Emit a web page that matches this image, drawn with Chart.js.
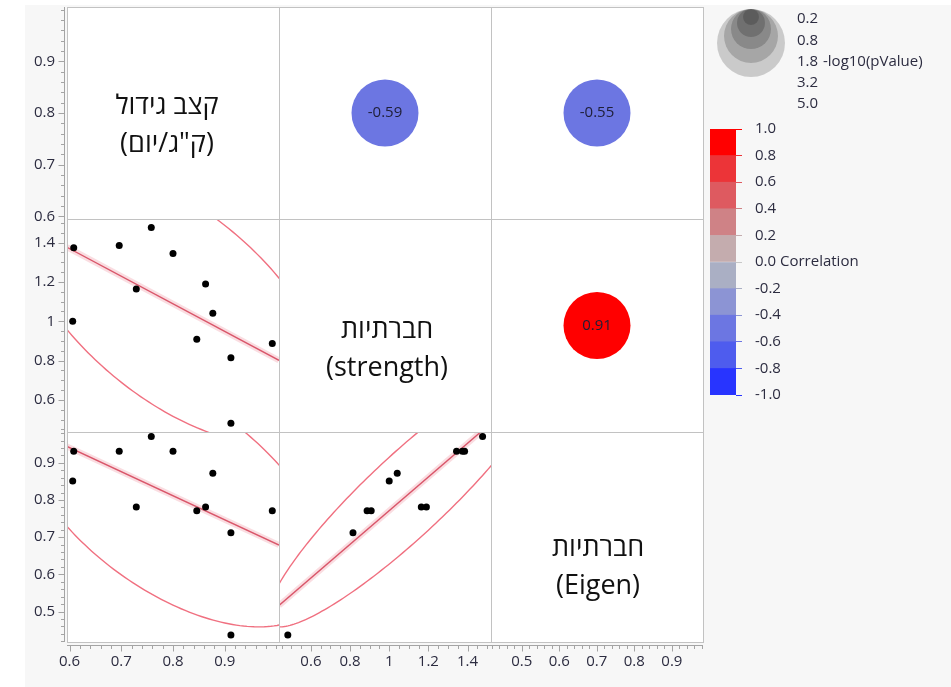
<!DOCTYPE html>
<html>
<head>
<meta charset="utf-8">
<script src="https://cdn.jsdelivr.net/npm/chart.js@4"></script>
<style>
  html, body { margin: 0; padding: 0; background: #fff; }
  #bg { position: absolute; left: 25px; top: 5px; width: 926px; height: 682px; background: #f7f7f7; }
  #matrix { position: absolute; left: 0; top: 0; }
  #legend { position: absolute; left: 700px; top: 0; }
</style>
</head>
<body>
<div id="bg"></div>
<canvas id="matrix" width="951" height="687"></canvas>
<canvas id="legend" width="251" height="420"></canvas>
<script>
const growth   = [0.608, 0.606, 0.696, 0.758, 0.729, 0.800, 0.863, 0.877, 0.846, 0.912, 0.912, 0.992];
const strength = [1.374, 1.000, 1.385, 1.477, 1.164, 1.344, 1.190, 1.041, 0.908, 0.815, 0.482, 0.887];
const eigen    = [0.931, 0.851, 0.931, 0.971, 0.781, 0.931, 0.781, 0.872, 0.771, 0.712, 0.437, 0.771];

const varLabels = [['קצב גידול', '(ק"ג/יום)'], ['חברתיות', '(strength)'], ['חברתיות', '(Eigen)']];

const growthTicks   = [0.6, 0.7, 0.8, 0.9];
const strengthTicks = [0.6, 0.8, 1, 1.2, 1.4];
const eigenTicks    = [0.5, 0.6, 0.7, 0.8, 0.9];

const corrPairs  = [[0, 1], [0, 2], [1, 2]];
const corrValues = [-0.59, -0.55, 0.91];
const corrTicks  = [-1, -0.8, -0.6, -0.4, -0.2, 0, 0.2, 0.4, 0.6, 0.8, 1];
const pvalueLabels = ['0.2', '0.8', '1.8', '3.2', '5.0'];

// styling / layout
const FONT = '"Open Sans", "DejaVu Sans", sans-serif';
const TICK_COLOR = '#2c2c40';
const BAND_COLORS = ['#2834ff', '#4e5cee', '#6c76e2', '#8c94d4', '#aaafc4',
                     '#c4acae', '#cf8286', '#de5a60', '#ec3438', '#ff0000'];
const VAR_DATA  = [growth, strength, eigen];
const VAR_TICKS = [growthTicks, strengthTicks, eigenTicks];
const VAR_MINOR = [0.02, 0.05, 0.02];
const VAR_RANGE = [[0.595, 1.005], [0.437, 1.52], [0.418, 0.983]];
const ROW_WEIGHT = [212, 213, 210];
const DIAG_POS = [[-6, -7], [2, 5], [1, 11]];   // text offset from cell centre
const SIZE_RADII = [34, 27, 20, 14, 8];

function corrColor(r) {
  const i = Math.max(0, Math.min(9, Math.floor((r + 1) / 0.2)));
  return BAND_COLORS[i];
}

function stats(xs, ys) {
  const n = xs.length;
  const mx = xs.reduce((a, b) => a + b, 0) / n;
  const my = ys.reduce((a, b) => a + b, 0) / n;
  let sxx = 0, syy = 0, sxy = 0;
  for (let k = 0; k < n; k++) {
    sxx += (xs[k] - mx) ** 2;
    syy += (ys[k] - my) ** 2;
    sxy += (xs[k] - mx) * (ys[k] - my);
  }
  return { mx, my, sx: Math.sqrt(sxx / (n - 1)), sy: Math.sqrt(syy / (n - 1)),
           r: sxy / Math.sqrt(sxx * syy), b: sxy / sxx };
}

const datasets = [];
for (let i = 0; i < 3; i++) {
  for (let j = 0; j < 3; j++) {
    const xa = 'x' + j, ya = 'y' + i;
    if (i > j) {
      const X = VAR_DATA[j], Y = VAR_DATA[i], st = stats(X, Y);
      const c = Math.sqrt(5.991);
      const ell = [];
      for (let k = 0; k <= 240; k++) {
        const t = 2 * Math.PI * k / 240;
        ell.push({
          x: st.mx + c * st.sx * Math.cos(t),
          y: st.my + c * st.sy * (st.r * Math.cos(t) + Math.sqrt(1 - st.r * st.r) * Math.sin(t))
        });
      }
      const fit = VAR_RANGE[j].map(x => ({ x, y: st.my + st.b * (x - st.mx) }));
      datasets.push({ data: ell, showLine: true, pointRadius: 0, borderColor: '#f07080', borderWidth: 1.4,
                      xAxisID: xa, yAxisID: ya, order: 3 });
      datasets.push({ data: fit, showLine: true, pointRadius: 0, borderColor: 'rgba(230,100,120,0.22)', borderWidth: 6,
                      xAxisID: xa, yAxisID: ya, order: 2 });
      datasets.push({ data: fit, showLine: true, pointRadius: 0, borderColor: '#d9566a', borderWidth: 1.4,
                      xAxisID: xa, yAxisID: ya, order: 1 });
      datasets.push({ data: X.map((x, k) => ({ x, y: Y[k] })), pointRadius: 3.5, pointBorderWidth: 0,
                      backgroundColor: '#000', xAxisID: xa, yAxisID: ya, order: 0 });
    } else if (i < j) {
      const p = corrPairs.findIndex(([a, b]) => a === i && b === j);
      const [xl, xh] = VAR_RANGE[j], [yl, yh] = VAR_RANGE[i];
      datasets.push({ type: 'bubble', data: [{ x: (xl + xh) / 2, y: (yl + yh) / 2, r: 33.5 }],
                      backgroundColor: corrColor(corrValues[p]), borderWidth: 0, corr: corrValues[p],
                      xAxisID: xa, yAxisID: ya, order: 0 });
    }
  }
}

function axisOpts(v, pos, weight) {
  return {
    type: 'linear', position: pos, stack: pos, stackWeight: weight,
    min: VAR_RANGE[v][0], max: VAR_RANGE[v][1],
    afterBuildTicks: s => { s.ticks = VAR_TICKS[v].map(value => ({ value })); },
    afterFit: s => {
      if (pos === 'left') s.width = 67; else s.height = 45;
      s.paddingTop = s.paddingBottom = s.paddingLeft = s.paddingRight = 0;
    },
    grid: { display: false, drawTicks: false },
    border: { display: false },
    ticks: { autoSkip: false, maxRotation: 0, minRotation: 0, padding: pos === 'left' ? 12 : 11,
             color: TICK_COLOR, font: { family: FONT, size: 15 }, callback: val => String(+val.toFixed(2)) }
  };
}

const scales = {};
[0, 1, 2].forEach(j => { scales['x' + j] = axisOpts(j, 'bottom', 212); });
[2, 1, 0].forEach(i => { scales['y' + i] = axisOpts(i, 'left', ROW_WEIGHT[i]); });

const px = v => Math.round(v) + 0.5;

const matrixPlugin = {
  id: 'matrix',
  beforeDraw(chart) {
    const { ctx, chartArea: a } = chart;
    ctx.save();
    ctx.fillStyle = '#fff';
    ctx.fillRect(a.left, a.top, a.width, a.height);
    ctx.restore();
  },
  beforeDatasetDraw(chart, args) {
    const m = args.meta, xs = chart.scales[m.xAxisID], ys = chart.scales[m.yAxisID];
    const ctx = chart.ctx;
    ctx.save();
    ctx.beginPath();
    ctx.rect(xs.left, ys.top, xs.right - xs.left, ys.bottom - ys.top);
    ctx.clip();
  },
  afterDatasetDraw(chart) { chart.ctx.restore(); },
  afterDatasetsDraw(chart) {
    const ctx = chart.ctx;
    ctx.save();
    // correlation values inside bubbles
    ctx.font = '15px ' + FONT;
    ctx.fillStyle = '#1e1e36';
    ctx.textAlign = 'center';
    ctx.textBaseline = 'middle';
    chart.data.datasets.forEach((ds, idx) => {
      if (ds.corr === undefined) return;
      const el = chart.getDatasetMeta(idx).data[0];
      ctx.fillText(ds.corr.toFixed(2), el.x, el.y);
    });
    // variable names on the diagonal
    ctx.font = '27px ' + FONT;
    ctx.fillStyle = '#111';
    for (let i = 0; i < 3; i++) {
      const xs = chart.scales['x' + i], ys = chart.scales['y' + i];
      const cx = (xs.left + xs.right) / 2 + DIAG_POS[i][0];
      const cy = (ys.top + ys.bottom) / 2 + DIAG_POS[i][1];
      varLabels[i].forEach((line, k) => {
        ctx.direction = /[\u0590-\u05ff]/.test(line) ? 'rtl' : 'ltr';
        ctx.fillText(line, cx, cy + k * 38);
      });
    }
    ctx.direction = 'ltr';
    // cell borders
    ctx.strokeStyle = '#c2c2c2';
    ctx.lineWidth = 1;
    for (let i = 0; i < 3; i++) {
      for (let j = 0; j < 3; j++) {
        const xs = chart.scales['x' + j], ys = chart.scales['y' + i];
        ctx.strokeRect(px(xs.left), px(ys.top), Math.round(xs.right) - Math.round(xs.left), Math.round(ys.bottom) - Math.round(ys.top));
      }
    }
    ctx.restore();
  },
  afterDraw(chart) {
    const ctx = chart.ctx, a = chart.chartArea;
    ctx.save();
    ctx.strokeStyle = '#a4a4a4';
    ctx.lineWidth = 1;
    ctx.beginPath();
    for (let v = 0; v < 3; v++) {
      const step = VAR_MINOR[v];
      const ys = chart.scales['y' + v], xs = chart.scales['x' + v];
      const lx = px(a.left - 3), by = px(a.bottom + 3);
      ctx.moveTo(lx, ys.top); ctx.lineTo(lx, ys.bottom);
      ctx.moveTo(xs.left, by); ctx.lineTo(xs.right, by);
      for (let k = Math.ceil(ys.min / step - 1e-9); k * step <= ys.max + 1e-9; k++) {
        const val = k * step;
        const major = VAR_TICKS[v].some(t => Math.abs(t - val) < 1e-6);
        const len = major ? 6 : 3.5;
        const y = px(ys.getPixelForValue(val));
        ctx.moveTo(lx - len, y); ctx.lineTo(lx, y);
        const x = px(xs.getPixelForValue(val));
        ctx.moveTo(x, by); ctx.lineTo(x, by + len);
      }
    }
    ctx.stroke();
    ctx.restore();
  }
};

new Chart(document.getElementById('matrix'), {
  type: 'scatter',
  data: { datasets },
  options: {
    responsive: false,
    animation: false,
    events: [],
    layout: { autoPadding: false, padding: { top: 7, right: 248, left: 0, bottom: 0 } },
    plugins: { legend: { display: false }, tooltip: { enabled: false } },
    scales
  },
  plugins: [matrixPlugin]
});

// legend: p-value size key and correlation colour bar
const sizeKeyPlugin = {
  id: 'sizeKey',
  afterDraw(chart) {
    const ctx = chart.ctx;
    ctx.save();
    ctx.fillStyle = 'rgba(0,0,0,0.18)';
    SIZE_RADII.forEach(r => {
      ctx.beginPath();
      ctx.arc(51, 9 + r, r, 0, 2 * Math.PI);
      ctx.fill();
    });
    ctx.font = '15px ' + FONT;
    ctx.fillStyle = TICK_COLOR;
    ctx.textBaseline = 'middle';
    ctx.textAlign = 'left';
    pvalueLabels.forEach((t, k) => ctx.fillText(t, 97, 19 + k * 21.3));
    ctx.fillText('-log10(pValue)', 123, 19 + 2 * 21.3);
    ctx.restore();
  }
};

new Chart(document.getElementById('legend'), {
  type: 'bar',
  data: {
    labels: [''],
    datasets: BAND_COLORS.map((col, i) => ({
      data: [[corrTicks[i], corrTicks[i + 1]]],
      backgroundColor: col, borderWidth: 0, grouped: false,
      barPercentage: 1, categoryPercentage: 1
    }))
  },
  options: {
    responsive: false,
    animation: false,
    events: [],
    layout: { autoPadding: false, padding: { left: 10, top: 129, bottom: 25, right: 0 } },
    plugins: { legend: { display: false }, tooltip: { enabled: false } },
    scales: {
      x: { display: false },
      y: {
        position: 'right', min: -1, max: 1,
        afterBuildTicks: s => { s.ticks = corrTicks.map(value => ({ value })); },
        afterFit: s => { s.width = 215; s.paddingTop = s.paddingBottom = 0; },
        grid: { drawOnChartArea: false, drawTicks: true, tickLength: 6,
                tickColor: c => (Math.abs(c.tick.value) < 1e-9 ? '#c8c8c8' : corrColor(c.tick.value > 0 ? c.tick.value - 0.1 : c.tick.value + 0.1)) },
        border: { display: false },
        ticks: { autoSkip: false, padding: 13, color: TICK_COLOR, font: { family: FONT, size: 15 },
                 callback: v => (Math.abs(v) < 1e-9 ? '0.0 Correlation' : v.toFixed(1)) }
      }
    }
  },
  plugins: [sizeKeyPlugin]
});
</script>
</body>
</html>
